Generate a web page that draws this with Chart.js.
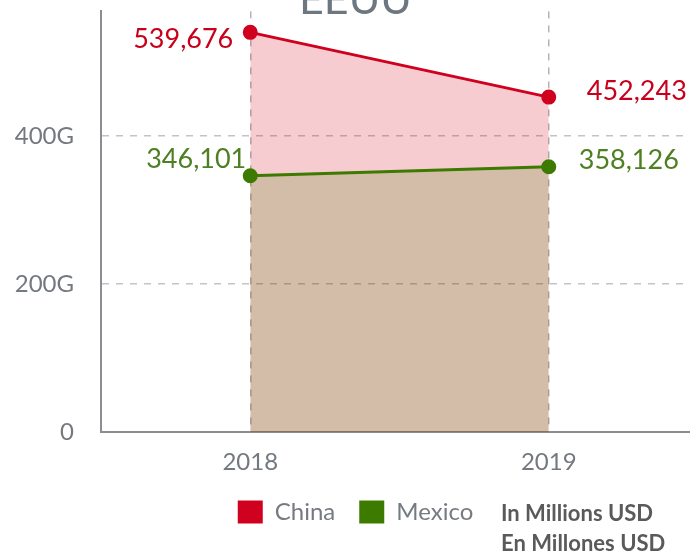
<!DOCTYPE html>
<html>
<head>
<meta charset="utf-8">
<script src="https://cdn.jsdelivr.net/npm/chart.js@4"></script>
<style>
  html, body { margin: 0; padding: 0; background: #fff; overflow: hidden; width: 690px; height: 553px; }
  #wrap { position: absolute; left: 0; top: -30px; width: 711px; height: 564px; }
  #note { position: absolute; left: 501px; top: 498px; font-family: Lato, sans-serif; font-weight: bold;
          font-size: 22px; line-height: 30px; color: #5a5a5a; white-space: nowrap; }
</style>
</head>
<body>
<div id="wrap"><canvas id="c"></canvas></div>
<div id="note">In Millions USD<br>En Millones USD</div>
<script>
const titleText = 'EEUU';
const categories = ['2018', '2019'];
const seriesNames = ['China', 'Mexico'];
const chinaValues = [539676, 452243];
const mexicoValues = [346101, 358126];
const yTickValues = [0, 200000, 400000];
const yTickLabels = ['0', '200G', '400G'];
const yMax = 568000;

const lineColors = ['#d0001f', '#3d7a00'];
const fillColors = ['rgba(208,0,27,0.2)', 'rgba(70,121,0,0.2)'];
const labelColors = ['#c8001c', '#4e7f22'];
// label placement (styling): [dx, dy, align] per point
const labelPlacement = [
  [[-17, 7, 'right'], [38, -6, 'left']],
  [[-4, -16, 'right'], [30, -7, 'left']]
];

const dataLabelPlugin = {
  id: 'dataLabels',
  afterDatasetsDraw(chart) {
    const ctx = chart.ctx;
    ctx.save();
    ctx.font = '27px Lato, sans-serif';
    ctx.textBaseline = 'middle';
    chart.data.datasets.forEach((ds, di) => {
      const meta = chart.getDatasetMeta(di);
      meta.data.forEach((pt, i) => {
        const [dx, dy, align] = labelPlacement[di][i];
        ctx.fillStyle = labelColors[di];
        ctx.textAlign = align;
        ctx.fillText(ds.data[i].toLocaleString('en-US'), pt.x + dx, pt.y + dy);
      });
    });
    ctx.restore();
  }
};

new Chart(document.getElementById('c'), {
  type: 'line',
  data: {
    labels: categories,
    datasets: [
      { label: seriesNames[0], data: chinaValues, borderColor: lineColors[0], backgroundColor: fillColors[0],
        pointBackgroundColor: lineColors[0], pointBorderColor: lineColors[0], fill: 'origin', order: 1,
        borderWidth: 3, pointRadius: 6, tension: 0 },
      { label: seriesNames[1], data: mexicoValues, borderColor: lineColors[1], backgroundColor: fillColors[1],
        pointBackgroundColor: lineColors[1], pointBorderColor: lineColors[1], fill: 'origin', order: 0,
        borderWidth: 3, pointRadius: 6, tension: 0 }
    ]
  },
  options: {
    responsive: true,
    maintainAspectRatio: false,
    animation: false,
    layout: { padding: 0 },
    plugins: {
      tooltip: { enabled: false },
      title: {
        display: true, text: titleText, color: '#6d7780',
        font: { family: 'Lato, sans-serif', size: 43, weight: 'normal', lineHeight: 0.41 },
        padding: { top: 20, bottom: 2 }
      },
      legend: {
        display: true, position: 'bottom',
        labels: {
          boxWidth: 25, boxHeight: 23, padding: 24, color: '#777b80',
          font: { family: 'Lato, sans-serif', size: 24 },
          sort: (a, b) => a.datasetIndex - b.datasetIndex,
          generateLabels(chart) {
            const items = Chart.defaults.plugins.legend.labels.generateLabels(chart);
            items.forEach((it) => { const c = lineColors[it.datasetIndex]; it.fillStyle = c; it.strokeStyle = c; it.lineWidth = 0; });
            return items;
          }
        }
      }
    },
    scales: {
      x: {
        offset: true,
        grid: { display: true, offset: false, drawTicks: false, color: '#b4b4b4', lineWidth: 1.5 },
        border: { display: true, color: '#8a8e92', width: 2, dash: [7, 7] },
        ticks: { color: '#747980', padding: 16, font: { family: 'Lato, sans-serif', size: 24 } },
        afterFit(scale) { scale.height = 44; }
      },
      y: {
        min: 0, max: yMax,
        afterBuildTicks(scale) { scale.ticks = yTickValues.map(v => ({ value: v })); },
        afterFit(scale) { scale.width = 101; },
        grid: { display: true, drawTicks: false, color: (c) => c.tick && c.tick.value === 0 ? 'rgba(0,0,0,0)' : '#c4c4c4', lineWidth: 1.5 },
        border: { display: true, color: '#8a8e92', width: 2, dash: [7, 7] },
        ticks: {
          color: '#747980', padding: 27, font: { family: 'Lato, sans-serif', size: 24 },
          callback(v) { const i = yTickValues.indexOf(v); return i >= 0 ? yTickLabels[i] : ''; }
        }
      },
      yRightSpace: {
        position: 'right', display: true,
        grid: { display: false }, border: { display: false }, ticks: { display: false },
        afterFit(scale) { scale.width = 13; }
      }
    }
  },
  plugins: [dataLabelPlugin]
});
</script>
</body>
</html>
